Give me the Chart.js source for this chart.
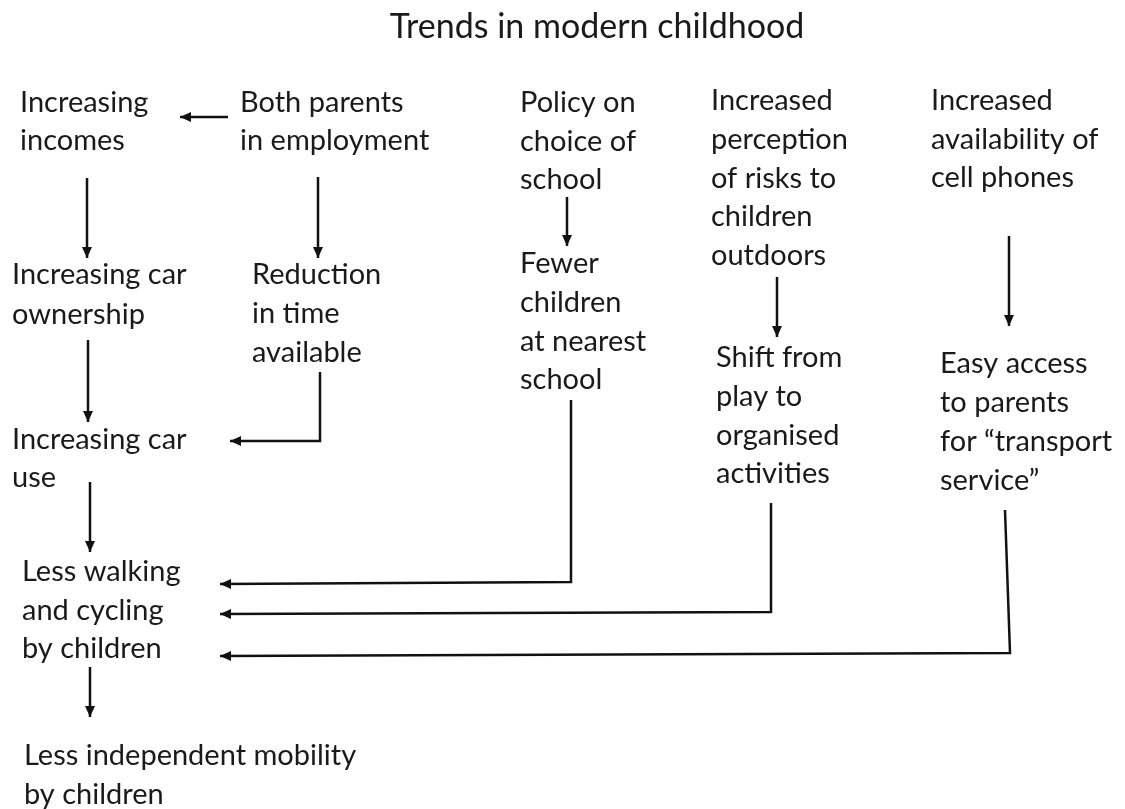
<!DOCTYPE html>
<html><head><meta charset="utf-8">
<script src="https://cdn.jsdelivr.net/npm/chart.js@4/dist/chart.umd.min.js"></script>
<style>html,body{margin:0;padding:0;background:#fff}#wrap{width:1125px;height:809px;position:relative}</style>
</head><body><div id="wrap"><canvas id="c"></canvas></div>
<script>
// Diagram content
const titleText = "Trends in modern childhood";
const titlePos = [597, 27];
const nodeLines = [
  ["Increasing", "incomes"],
  ["Both parents", "in employment"],
  ["Policy on", "choice of", "school"],
  ["Increased", "perception", "of risks to", "children", "outdoors"],
  ["Increased", "availability of", "cell phones"],
  ["Increasing car", "ownership"],
  ["Reduction", "in time", "available"],
  ["Fewer", "children", "at nearest", "school"],
  ["Shift from", "play to", "organised", "activities"],
  ["Easy access", "to parents", "for \u201ctransport", "service\u201d"],
  ["Increasing car", "use"],
  ["Less walking", "and cycling", "by children"],
  ["Less independent mobility", "by children"]
];
const nodeX = [20, 240, 520, 711, 931, 12, 252, 520, 716, 940, 12, 22, 24];
const nodeY = [103, 103, 103, 101, 101, 275, 275, 264, 358, 364, 440, 572, 756];
const nodeLineGap = [38, 38, 38.5, 38.7, 38.5, 40, 39, 38.7, 38.7, 39, 38, 38.5, 39];
// Arrows: polylines, the last point carries the arrowhead
const arrows = [
  [[228, 117], [180, 117]],
  [[87, 178], [87, 258]],
  [[318, 177], [318, 258]],
  [[88, 340], [88, 422]],
  [[320, 372], [320, 441], [230, 441]],
  [[90, 482], [90, 552]],
  [[90, 667], [90, 717]],
  [[567, 197], [567, 246]],
  [[777, 277], [777, 337]],
  [[1009, 236], [1009, 326]],
  [[571, 400], [571, 582], [220, 584]],
  [[771, 503], [771, 612], [220, 614]],
  [[1005, 510], [1010, 653], [220, 656]]
];

const FONT = "Lato, 'Open Sans', sans-serif";
const textPlugin = {
  id: 'diagramText',
  afterDatasetsDraw(chart) {
    const ctx = chart.ctx, xs = chart.scales.x, ys = chart.scales.y;
    ctx.save();
    ctx.fillStyle = '#1a1a1a';
    ctx.textBaseline = 'middle';
    ctx.font = "34px " + FONT;
    ctx.textAlign = 'center';
    ctx.fillText(titleText, xs.getPixelForValue(titlePos[0]), ys.getPixelForValue(titlePos[1]));
    ctx.textAlign = 'left';
    ctx.font = "29px " + FONT;
    nodeLines.forEach((lines, i) => {
      lines.forEach((t, j) => {
        ctx.fillText(t, xs.getPixelForValue(nodeX[i]), ys.getPixelForValue(nodeY[i] + j * nodeLineGap[i]));
      });
    });
    // arrowheads
    ctx.fillStyle = '#111';
    chart.data.datasets.forEach((ds, i) => {
      const pts = chart.getDatasetMeta(i).data;
      const a = pts[pts.length - 2], b = pts[pts.length - 1];
      const ang = Math.atan2(b.y - a.y, b.x - a.x);
      const L = 11, W = 5;
      ctx.beginPath();
      ctx.moveTo(b.x, b.y);
      ctx.lineTo(b.x - L * Math.cos(ang) + W * Math.sin(ang), b.y - L * Math.sin(ang) - W * Math.cos(ang));
      ctx.lineTo(b.x - L * Math.cos(ang) - W * Math.sin(ang), b.y - L * Math.sin(ang) + W * Math.cos(ang));
      ctx.closePath();
      ctx.fill();
    });
    ctx.restore();
  }
};

new Chart(document.getElementById('c'), {
  type: 'scatter',
  data: {
    datasets: arrows.map(p => ({
      data: p.map(q => ({x: q[0], y: q[1]})),
      showLine: true,
      borderColor: '#111',
      borderWidth: 2.5,
      pointRadius: 0,
      pointHoverRadius: 0,
      tension: 0,
      fill: false
    }))
  },
  options: {
    responsive: true,
    maintainAspectRatio: false,
    animation: false,
    layout: {padding: 0},
    plugins: {legend: {display: false}, tooltip: {enabled: false}, title: {display: false}},
    scales: {
      x: {type: 'linear', min: 0, max: 1125, display: false},
      y: {type: 'linear', min: 0, max: 809, reverse: true, display: false}
    }
  },
  plugins: [textPlugin]
});
</script></body></html>
